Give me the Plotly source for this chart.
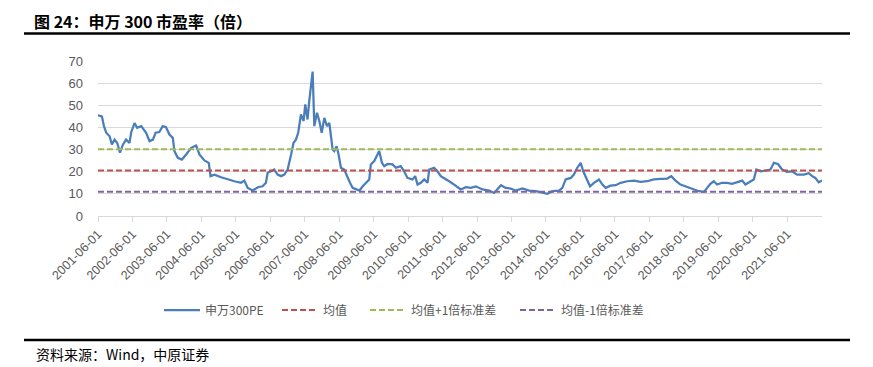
import plotly.graph_objects as go

# ---------------- data ----------------
dates = [
    "2001-06-01", "2001-07-12", "2001-08-03", "2001-08-27", "2001-10-02", "2001-10-26",
    "2001-11-24", "2001-12-22", "2002-01-20", "2002-02-21", "2002-03-26", "2002-05-01",
    "2002-05-18", "2002-06-23", "2002-07-21", "2002-09-02", "2002-10-24", "2002-11-29",
    "2003-01-04", "2003-02-02", "2003-03-13", "2003-04-18", "2003-05-23", "2003-06-28",
    "2003-08-03", "2003-08-20", "2003-09-25", "2003-11-07", "2003-12-22", "2004-02-14",
    "2004-04-06", "2004-05-11", "2004-07-03", "2004-08-18", "2004-09-06", "2004-10-18",
    "2004-12-27", "2005-03-07", "2005-05-16", "2005-07-26", "2005-08-30", "2005-10-05",
    "2005-11-28", "2006-01-20", "2006-03-12", "2006-04-16", "2006-05-04", "2006-06-09",
    "2006-07-13", "2006-08-18", "2006-09-23", "2006-10-28", "2006-12-02", "2007-01-08",
    "2007-02-02", "2007-02-28", "2007-03-24", "2007-04-22", "2007-05-20", "2007-06-07",
    "2007-07-01", "2007-07-19", "2007-08-07", "2007-08-24", "2007-09-11", "2007-10-09",
    "2007-11-03", "2007-11-28", "2007-12-26", "2008-01-23", "2008-02-17", "2008-03-05",
    "2008-03-23", "2008-04-09", "2008-05-04", "2008-05-25", "2008-06-19", "2008-07-24",
    "2008-08-28", "2008-09-23", "2008-10-21", "2008-11-26", "2009-01-01", "2009-02-05",
    "2009-03-10", "2009-04-15", "2009-05-02", "2009-06-07", "2009-07-30", "2009-08-27",
    "2009-09-21", "2009-10-26", "2009-12-18", "2010-01-23", "2010-03-15", "2010-04-20",
    "2010-05-25", "2010-07-17", "2010-08-15", "2010-09-09", "2010-10-14", "2010-11-19",
    "2010-12-24", "2011-01-11", "2011-03-03", "2011-04-08", "2011-05-13", "2011-06-18",
    "2011-08-10", "2011-10-02", "2011-12-11", "2012-02-03", "2012-03-26", "2012-05-18",
    "2012-07-28", "2012-10-07", "2012-11-29", "2013-02-09", "2013-04-01", "2013-05-23",
    "2013-07-15", "2013-09-25", "2013-12-05", "2014-02-14", "2014-04-24", "2014-06-16",
    "2014-08-08", "2014-10-18", "2014-11-22", "2014-12-27", "2015-02-19", "2015-03-24",
    "2015-04-29", "2015-06-04", "2015-07-01", "2015-07-26", "2015-08-13", "2015-09-11",
    "2015-10-23", "2015-12-15", "2016-01-20", "2016-02-24", "2016-04-16", "2016-06-09",
    "2016-08-01", "2016-10-10", "2016-12-20", "2017-02-28", "2017-05-09", "2017-07-19",
    "2017-09-28", "2017-12-08", "2018-01-20", "2018-03-05", "2018-04-27", "2018-07-06",
    "2018-09-16", "2018-11-08", "2019-01-01", "2019-02-05", "2019-03-10", "2019-04-15",
    "2019-05-20", "2019-07-12", "2019-09-04", "2019-10-26", "2019-12-18", "2020-02-10",
    "2020-03-15", "2020-05-07", "2020-06-12", "2020-07-10", "2020-08-22", "2020-10-14",
    "2020-12-06", "2021-01-11", "2021-02-23", "2021-04-08", "2021-05-30", "2021-07-22",
    "2021-09-14", "2021-11-24", "2022-01-16", "2022-02-21", "2022-03-26", "2022-05-01",
    "2022-06-05",
]
pe_values = [
    45.4, 45.0, 40.6, 37.6, 36.0, 32.3,
    34.5, 33.0, 28.6, 32.3, 34.5, 33.0,
    37.6, 42.0, 39.8, 40.6, 37.6, 33.8,
    34.5, 37.6, 37.9, 40.6, 40.1, 36.8,
    35.3, 29.3, 26.3, 25.5, 27.8, 30.8,
    31.8, 27.8, 25.1, 24.0, 18.0, 18.7,
    17.5, 16.5, 15.7, 15.0, 16.0, 12.7,
    11.5, 13.0, 13.4, 15.0, 19.5, 20.2,
    21.0, 18.7, 18.0, 18.7, 21.0, 27.8,
    33.0, 34.5, 37.6, 45.9, 42.9, 50.4,
    43.6, 51.9, 58.7, 65.2, 40.6, 46.6,
    42.9, 37.6, 44.3, 40.6, 42.0, 36.0,
    30.0, 29.3, 31.5, 27.8, 21.8, 21.0,
    17.2, 15.0, 12.7, 12.0, 11.5, 13.4,
    15.0, 16.5, 23.3, 24.8, 29.3, 24.0,
    22.5, 23.5, 23.3, 21.8, 22.5, 20.2,
    17.2, 16.5, 18.0, 14.2, 15.0, 16.5,
    15.0, 21.0, 21.8, 20.2, 18.0, 17.2,
    15.7, 14.2, 12.0, 13.0, 12.7, 13.4,
    12.0, 11.5, 10.4, 13.9, 12.7, 12.4,
    11.5, 12.4, 11.5, 11.2, 10.7, 10.0,
    11.2, 11.5, 12.7, 16.5, 17.2, 18.7,
    21.8, 24.0, 20.2, 18.0, 15.7, 13.4,
    15.0, 16.5, 14.2, 12.7, 13.7, 13.9,
    15.0, 15.7, 16.0, 15.4, 15.7, 16.5,
    16.8, 16.9, 18.0, 16.0, 14.2, 13.0,
    12.0, 11.2, 10.9, 12.7, 14.5, 15.7,
    14.2, 15.0, 15.0, 14.5, 15.4, 16.0,
    14.2, 15.7, 16.5, 21.0, 20.2, 20.5,
    21.0, 24.0, 23.5, 21.0, 19.9, 20.2,
    18.7, 18.7, 19.3, 18.0, 17.2, 15.2,
    16.0,
]
mean_value = 20.6
mean_plus_std = 30.2
mean_minus_std = 11.0

series_names = ["申万300PE", "均值", "均值+1倍标准差", "均值-1倍标准差"]
tick_dates = [f"{y}-06-01" for y in range(2001, 2022)]
tick_labels = [f"{y}-06-01" for y in range(2001, 2022)]
y_ticks = [0, 10, 20, 30, 40, 50, 60, 70]

title_text = "图 24：申万 300 市盈率（倍）"
source_text = "资料来源：Wind，中原证券"

# ---------------- figure ----------------
W, H = 873, 367
L, R, T, B = 98, 51, 61, 151
PW, PH = W - L - R, H - T - B


def px_x(px):
    return (px - L) / PW


def px_y(py):
    return (H - B - py) / PH


fig = go.Figure()
fig.add_trace(go.Scatter(
    x=dates, y=pe_values, mode="lines", name=series_names[0],
    line=dict(color="#4A7EBB", width=2.25), legend="legend",
))
x_span = [dates[0], dates[-1]]
for name, val, col, lg in [
    (series_names[1], mean_value, "#C0504D", "legend2"),
    (series_names[2], mean_plus_std, "#9BBB59", "legend3"),
    (series_names[3], mean_minus_std, "#8064A2", "legend4"),
]:
    fig.add_trace(go.Scatter(
        x=x_span, y=[val, val], mode="lines", name=name,
        line=dict(color=col, width=2, dash="6px,3px"), legend=lg,
    ))

legend_font = dict(family="Noto Sans CJK SC", size=12, color="#595959")


def legend_at(px):
    return dict(
        orientation="h", x=px_x(px), xanchor="left", y=px_y(310), yanchor="middle",
        font=legend_font, bgcolor="rgba(0,0,0,0)", borderwidth=0, itemwidth=36,
    )


fig.update_layout(
    width=W, height=H,
    margin=dict(l=L, r=R, t=T, b=B),
    paper_bgcolor="white", plot_bgcolor="white",
    showlegend=True,
    legend=legend_at(159),
    legend2=legend_at(277),
    legend3=legend_at(365),
    legend4=legend_at(515),
    title=dict(
        text=title_text, xref="container", yref="container",
        x=34 / W, y=1 - 22 / H, xanchor="left", yanchor="middle",
        font=dict(family="Noto Sans CJK SC", size=16, color="black", weight="bold"),
    ),
    xaxis=dict(
        type="date", range=[dates[0], dates[-1]],
        tickmode="array", tickvals=tick_dates, ticktext=tick_labels,
        tickangle=-45, ticks="outside", ticklen=5, tickcolor="#D9D9D9",
        showline=True, linecolor="#D9D9D9", linewidth=1,
        showgrid=False, zeroline=False,
        tickfont=dict(family="Liberation Sans", size=12.5, color="#595959"),
    ),
    yaxis=dict(
        range=[0, 70], tickmode="array", tickvals=y_ticks,
        showgrid=True, gridcolor="#D9D9D9", gridwidth=1,
        zeroline=False, showline=False,
        ticklabelstandoff=14,
        tickfont=dict(family="Liberation Sans", size=13, color="#595959"),
    ),
    shapes=[
        dict(type="line", xref="paper", yref="paper",
             x0=px_x(24), x1=px_x(850), y0=px_y(33.5), y1=px_y(33.5),
             line=dict(color="black", width=2.5)),
        dict(type="line", xref="paper", yref="paper",
             x0=px_x(24), x1=px_x(850), y0=px_y(340), y1=px_y(340),
             line=dict(color="black", width=2.5)),
    ],
    annotations=[
        dict(text=source_text, xref="paper", yref="paper",
             x=px_x(34), y=px_y(354), xanchor="left", yanchor="middle",
             showarrow=False,
             font=dict(family="Noto Sans CJK SC", size=14, color="black")),
    ],
)

fig.write_html(
    "out.html",
    config={"displayModeBar": False},
    post_script="document.body.style.margin='0px';document.body.style.padding='0px';",
)
